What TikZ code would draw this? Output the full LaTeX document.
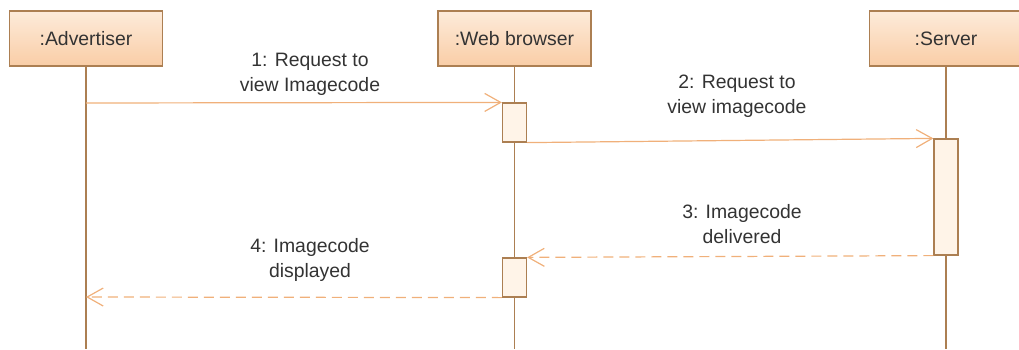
\documentclass[tikz,border=0pt]{standalone}
\usepackage{fontspec}
\setmainfont{Liberation Sans}
\usetikzlibrary{arrows.meta}

\definecolor{lifebrown}{HTML}{AC7F52}
\definecolor{msgorange}{HTML}{F0B07A}
\definecolor{boxtop}{HTML}{FDEBDA}
\definecolor{boxbottom}{HTML}{F9CDA6}
\definecolor{actfill}{HTML}{FFF4E8}
\definecolor{labelgray}{HTML}{333333}

\tikzset{
	object/.style = {draw=lifebrown, line width=0.6pt, top color=boxtop, bottom color=boxbottom, minimum width=76.5pt, minimum height=27.5pt, inner sep=0pt, text=labelgray},
	activation/.style = {draw=lifebrown, line width=0.6pt, fill=actfill, minimum width=12pt, inner sep=0pt},
	lifeline/.style = {draw=lifebrown, line width=0.6pt},
	message/.style = {draw=msgorange, line width=0.6pt, -{Straight Barb[length=8pt,width=9pt]}},
	reply/.style = {message, dash pattern=on 5pt off 3pt},
	msglabel/.style = {align=center, text=labelgray, inner sep=0pt}
}

\begin{document}
\begin{tikzpicture}[x=0.5pt, y=-0.5pt, font=\fontsize{9.7}{12.5}\selectfont]
	\useasboundingbox (0,0) rectangle (1019,349);

	\node[object] (adv) at (86,38.5) {:Advertiser};
	\node[object] (web) at (514.5,38.5) {:Web browser};
	\node[object] (srv) at (946,38.5) {:Server};

	\coordinate (bottom) at (0,349);
	\draw[lifeline] (adv.south) -- (adv.south |- bottom);
	\draw[lifeline] (web.south) -- (web.south |- bottom);
	\draw[lifeline] (srv.south) -- (srv.south |- bottom);

	\node[activation, minimum height=19.5pt] (act1) at (514.5,122.5) {};
	\node[activation, minimum height=58pt] (act2) at (946,197) {};
	\node[activation, minimum height=19.5pt] (act3) at (514.5,277.5) {};

	\coordinate (m1start) at (86,103);
	\coordinate (m4end) at (86,297);
	\draw[message] (m1start) -- (act1.north west);
	\draw[message] (act1.south east) -- (act2.north west);
	\draw[reply] (act2.south west) -- (act3.north east);
	\draw[reply] (act3.south west) -- (m4end);

	\node[msglabel] (lbl1) at (310,74.5) {1: Request to\\view Imagecode};
	\node[msglabel] (lbl2) at (737,96.5) {2: Request to\\view imagecode};
	\node[msglabel] (lbl3) at (742,224) {3: Imagecode\\delivered};
	\node[msglabel] (lbl4) at (310,259.5) {4: Imagecode\\displayed};
\end{tikzpicture}
\end{document}
